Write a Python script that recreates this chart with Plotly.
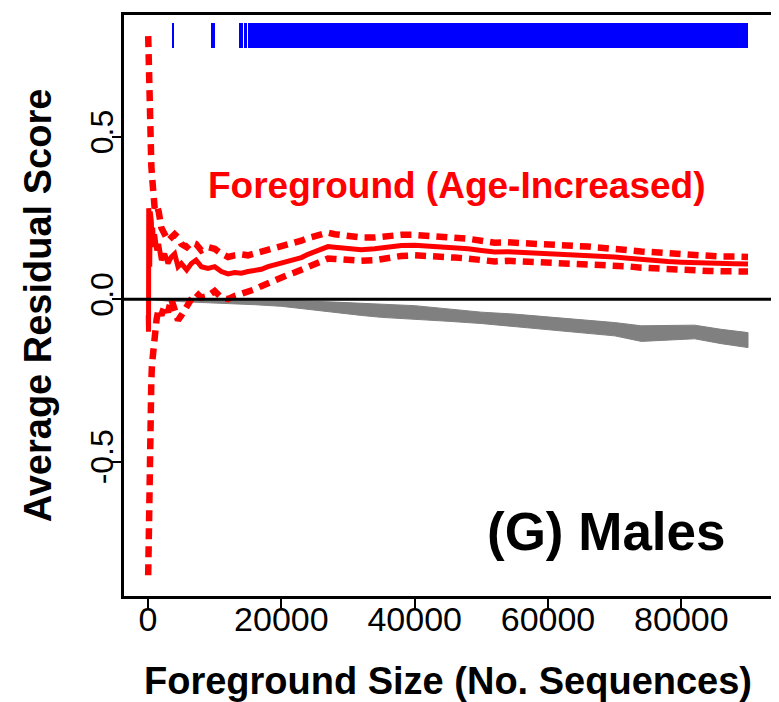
import plotly.graph_objects as go

# ---------------- data ----------------
fg_size = [30, 50, 80, 110, 150, 200, 260, 330, 400, 500, 600, 700, 800, 1000, 1300, 1600,
           2000, 2500, 3000, 3500,
           4000, 4500, 5000, 5800, 6500, 7200, 8000, 9000, 10000, 11000, 12000, 13000,
           14000, 15000, 16000, 17000, 18000, 19000, 20000, 21000, 22000, 23000, 24000,
           25000, 26000, 27000, 28000, 29000, 30000, 32000, 34000, 36000, 38000, 40000,
           42000, 44000, 46000, 48000, 50000, 52000, 54000, 56000, 58000, 60000, 62000,
           64000, 66000, 68000, 70000, 72000, 74000, 76000, 78000, 80000, 82000, 84000,
           86000, 88000, 90000]
fg_mean = [-0.05, 0.25, -0.1, 0.28, 0.05, 0.24, 0.1, 0.27, 0.13, 0.24, 0.16, 0.22, 0.18, 0.2,
           0.15, 0.17, 0.12, 0.14, 0.11, 0.13,
           0.14, 0.1, 0.11, 0.09, 0.11, 0.12, 0.1, 0.095, 0.1, 0.085, 0.078, 0.082,
           0.08, 0.085, 0.088, 0.092, 0.1, 0.105, 0.11, 0.118, 0.122, 0.128, 0.138,
           0.147, 0.155, 0.162, 0.16, 0.158, 0.155, 0.152, 0.155, 0.16, 0.165, 0.166,
           0.164, 0.16, 0.158, 0.155, 0.15, 0.145, 0.146, 0.144, 0.142, 0.14, 0.139,
           0.138, 0.136, 0.134, 0.13, 0.126, 0.122, 0.119, 0.116, 0.114, 0.112, 0.11,
           0.109, 0.109, 0.108]
fg_upper = [0.81, 0.78, 0.74, 0.68, 0.62, 0.57, 0.53, 0.48, 0.45, 0.41, 0.38, 0.33, 0.3, 0.28,
            0.29, 0.27, 0.22, 0.2, 0.18, 0.19,
            0.2, 0.19, 0.17, 0.16, 0.175, 0.17, 0.15, 0.16, 0.155, 0.14, 0.13, 0.135,
            0.138, 0.135, 0.14, 0.145, 0.152, 0.158, 0.165, 0.17, 0.175, 0.18, 0.188,
            0.195, 0.2, 0.205, 0.2, 0.197, 0.193, 0.19, 0.19, 0.195, 0.198, 0.198,
            0.196, 0.192, 0.19, 0.186, 0.18, 0.174, 0.175, 0.172, 0.17, 0.168, 0.166,
            0.164, 0.162, 0.16, 0.156, 0.151, 0.147, 0.144, 0.14, 0.138, 0.136, 0.133,
            0.131, 0.131, 0.13]
fg_lower = [-0.85, -0.8, -0.72, -0.64, -0.55, -0.48, -0.42, -0.36, -0.3, -0.25, -0.2, -0.17, -0.14, -0.1,
            -0.06, -0.03, -0.05, -0.02, -0.04, 0.0,
            -0.03, -0.065, -0.05, -0.02, 0.0, 0.02, 0.005, 0.01, 0.025, 0.005, 0.0, 0.01,
            0.015, 0.025, 0.03, 0.04, 0.05, 0.06, 0.068, 0.075, 0.082, 0.09, 0.1,
            0.11, 0.118, 0.125, 0.124, 0.122, 0.12, 0.118, 0.12, 0.128, 0.133, 0.135,
            0.134, 0.13, 0.128, 0.125, 0.12, 0.116, 0.118, 0.116, 0.114, 0.113, 0.112,
            0.111, 0.11, 0.108, 0.105, 0.101, 0.097, 0.094, 0.092, 0.09, 0.088, 0.087,
            0.086, 0.086, 0.085]

bg_size = [0, 3000, 8000, 12000, 16000, 20000, 24000, 28000, 32000, 35000, 40000, 45000,
           50000, 55000, 60000, 65000, 70000, 74000, 78000, 82000, 86000, 90000]
bg_upper = [0.0, 0.0, -0.001, -0.002, -0.003, -0.004, -0.006, -0.009, -0.012, -0.015, -0.02,
            -0.03, -0.04, -0.046, -0.054, -0.062, -0.072, -0.082, -0.082, -0.08, -0.093, -0.103]
bg_lower = [0.0, -0.006, -0.01, -0.013, -0.017, -0.022, -0.03, -0.04, -0.05, -0.056, -0.062,
            -0.068, -0.075, -0.083, -0.093, -0.103, -0.113, -0.13, -0.126, -0.122, -0.137, -0.149]

# significant foreground-size intervals (start, end)
sig_start = [3580, 9400, 13700, 14330, 14930]
sig_end = [3930, 10000, 14230, 14780, 90000]
sig_ymin = 0.774
sig_ymax = 0.850

x_ticks = [0, 20000, 40000, 60000, 80000]
x_ticklabels = ["0", "20000", "40000", "60000", "80000"]
y_ticks = [-0.5, 0.0, 0.5]
y_ticklabels = ["-0.5", "0.0", "0.5"]
x_range = [-3600, 93600]
y_range = [-0.914, 0.875]

FONT = "Liberation Sans, Arial, sans-serif"

fig = go.Figure()

# background band (gray)
fig.add_trace(go.Scatter(
    x=bg_size + bg_size[::-1], y=bg_upper + bg_lower[::-1],
    fill="toself", fillcolor="#808080", mode="lines",
    line=dict(color="#808080", width=1), hoverinfo="skip", showlegend=False))

# significance marks (blue)
fig.add_trace(go.Bar(
    x=[(s + e) / 2 for s, e in zip(sig_start, sig_end)],
    width=[max(e - s, 250) for s, e in zip(sig_start, sig_end)],
    y=[sig_ymax - sig_ymin] * len(sig_start), base=[sig_ymin] * len(sig_start),
    marker=dict(color="#0000ff", line=dict(width=0)), showlegend=False))

# foreground curves
fig.add_trace(go.Scatter(x=fg_size, y=fg_upper, mode="lines",
                         line=dict(color="#ff0000", width=6.5, dash="11px,7px"), showlegend=False))
fig.add_trace(go.Scatter(x=fg_size, y=fg_lower, mode="lines",
                         line=dict(color="#ff0000", width=6.5, dash="11px,7px"), showlegend=False))
fig.add_trace(go.Scatter(x=fg_size, y=fg_mean, mode="lines",
                         line=dict(color="#ff0000", width=5), showlegend=False))

# invisible trace that carries the label axes
fig.add_trace(go.Scatter(x=[x_ticks[0]], y=[y_ticks[1]], xaxis="x2", yaxis="y2",
                         mode="markers", marker=dict(opacity=0), hoverinfo="skip",
                         showlegend=False))

# zero reference line
fig.add_shape(type="line", xref="paper", x0=0, x1=1, yref="y", y0=0, y1=0,
              line=dict(color="black", width=3), layer="above")

fig.add_annotation(x=46400, y=0.35, xref="x", yref="y", text="<b>Foreground (Age-Increased)</b>",
                   showarrow=False, font=dict(family=FONT, size=37, color="#ff0000"))
fig.add_annotation(x=68800, y=-0.716, xref="x", yref="y", text="<b>(G) Males</b>",
                   showarrow=False, font=dict(family=FONT, size=53, color="black"))

# page body has an 8px default margin, so the figure is sized to fit the 779x702 window
fig.update_layout(
    width=771, height=694,
    margin=dict(l=116, r=4, t=4, b=105),
    plot_bgcolor="white", paper_bgcolor="white",
    bargap=0,
    xaxis=dict(range=x_range, tickvals=x_ticks, showticklabels=False,
               ticks="outside", ticklen=9, tickwidth=2, tickcolor="black",
               showline=True, linecolor="black", linewidth=3, mirror=True,
               showgrid=False, zeroline=False),
    yaxis=dict(range=y_range, tickvals=y_ticks, showticklabels=False,
               ticks="outside", ticklen=9, tickwidth=2, tickcolor="black",
               showline=True, linecolor="black", linewidth=3, mirror=True,
               showgrid=False, zeroline=False),
    xaxis2=dict(range=x_range, overlaying="x", anchor="y2", side="bottom",
                tickvals=x_ticks, ticktext=x_ticklabels, ticks="",
                ticklabelstandoff=0,
                showline=False, showgrid=False, zeroline=False,
                tickfont=dict(family=FONT, size=34, color="black"),
                title=dict(text="<b>Foreground Size (No. Sequences)</b>",
                           font=dict(family=FONT, size=38, color="black"), standoff=33)),
    yaxis2=dict(range=y_range, overlaying="y", anchor="x2", side="left",
                tickvals=y_ticks, ticktext=y_ticklabels, ticks="", tickangle=-90,
                ticklabelstandoff=4,
                showline=False, showgrid=False, zeroline=False,
                tickfont=dict(family=FONT, size=32, color="black"),
                title=dict(text="<b>Average Residual Score</b>",
                           font=dict(family=FONT, size=38, color="black"), standoff=20)),
)

fig.write_html("out.html")
